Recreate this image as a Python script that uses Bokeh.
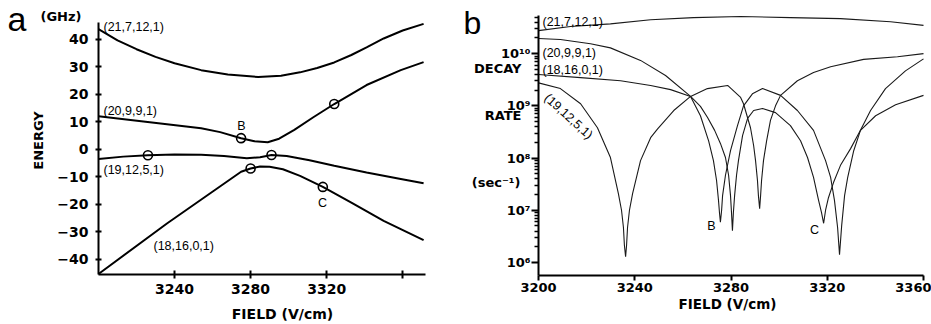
from bokeh.plotting import figure
from bokeh.layouts import row
from bokeh.models import FixedTicker, Label, Range1d
from bokeh.embed import file_html
from bokeh.resources import INLINE
import numpy as np

# ---------------- Panel a: energy (GHz) vs field (V/cm) ----------------
a_field_21_7_12 = [3200, 3210, 3220, 3230, 3240, 3254, 3268, 3284, 3296, 3306, 3315, 3324, 3333, 3341, 3350, 3360, 3371]
a_energy_21_7_12 = [43.6, 39.5, 36.3, 33.5, 31.2, 28.7, 27.1, 26.2, 26.7, 27.9, 29.5, 31.5, 34.2, 37.0, 40.2, 43.1, 45.5]

a_field_20_9_9 = [3200, 3227, 3254, 3264, 3275, 3282, 3289, 3295, 3303, 3313, 3324, 3341, 3359, 3371]
a_energy_20_9_9 = [12.0, 9.8, 7.6, 6.2, 4.0, 2.9, 2.5, 3.8, 7.0, 11.6, 16.4, 23.3, 28.7, 31.6]

a_field_19_12_5 = [3200, 3213, 3226, 3240, 3254, 3266, 3278, 3285, 3291, 3299, 3311, 3324, 3341, 3359, 3371]
a_energy_19_12_5 = [-3.6, -2.7, -2.2, -1.9, -2.0, -2.5, -3.3, -2.9, -2.1, -2.5, -4.0, -6.0, -8.5, -10.8, -12.4]

a_field_18_16_0 = [3200, 3236, 3275, 3280, 3285, 3290, 3297, 3306, 3318, 3333, 3350, 3371]
a_energy_18_16_0 = [-45.3, -27.0, -8.2, -7.0, -6.3, -6.4, -7.3, -9.7, -13.7, -19.4, -26.0, -33.0]

a_mark_field = [3226, 3291, 3275, 3324, 3280, 3318]
a_mark_energy = [-2.2, -2.1, 4.0, 16.4, -7.0, -13.7]

a_xticks = [3240, 3280, 3320, 3360]
a_yticks = [-40, -30, -20, -10, 0, 10, 20, 30, 40]

# ---------------- Panel b: decay rate (sec^-1, read as log10) vs field ----------------
b_field_21_7_12 = [3200, 3213.3, 3229.9, 3246.6, 3264.4, 3284.0, 3304.7, 3325.5, 3346.3, 3360]
b_log_21_7_12 = [10.44, 10.52, 10.57, 10.65, 10.69, 10.71, 10.69, 10.67, 10.61, 10.54]

b_field_20_9_9 = [3200, 3209.1, 3221.6, 3229.9, 3242.4, 3252.8, 3263.2, 3267.3, 3270.7, 3272.7,
                  3274.0, 3274.8, 3275.2, 3275.6, 3276.1, 3276.5, 3277.7, 3279.8, 3282.7, 3285.2,
                  3288.9, 3293.1, 3300.6, 3307.6, 3314.3, 3319.3, 3321.4, 3323.0, 3324.3, 3325.1,
                  3326.0, 3327.2, 3328.5, 3331.0, 3333.8, 3338.0, 3344.2, 3352.5, 3360]
b_log_20_9_9 = [10.29, 10.27, 10.19, 10.11, 9.87, 9.58, 9.18, 8.81, 8.33, 7.95,
                7.57, 7.19, 6.96, 6.77, 7.00, 7.28, 7.67, 8.14, 8.62, 9.00,
                9.23, 9.33, 9.20, 8.91, 8.53, 7.95, 7.63, 7.19, 6.67, 6.15,
                6.71, 7.28, 7.63, 8.14, 8.53, 8.91, 9.33, 9.67, 9.90]

b_field_18_16_0 = [3200, 3217.5, 3234.1, 3246.6, 3254.9, 3263.2, 3267.3, 3270.2, 3273.2, 3275.6,
                   3277.7, 3279.0, 3279.8, 3280.2, 3280.6, 3281.0, 3281.5, 3282.3, 3283.1, 3284.8,
                   3286.9, 3289.4, 3293.1, 3298.5, 3304.7, 3308.9, 3311.8, 3314.3, 3316.4, 3317.6,
                   3318.5, 3319.3, 3320.5, 3322.6, 3325.5, 3329.7, 3333.8, 3340.1, 3348.4, 3360]
b_log_18_16_0 = [9.60, 9.54, 9.48, 9.39, 9.31, 9.18, 8.99, 8.78, 8.53, 8.28,
                 8.01, 7.67, 7.28, 6.96, 6.61, 6.96, 7.28, 7.67, 7.95, 8.43,
                 8.76, 8.91, 8.95, 8.87, 8.62, 8.33, 8.01, 7.63, 7.19, 6.96,
                 6.75, 7.00, 7.24, 7.53, 7.86, 8.18, 8.53, 8.81, 9.02, 9.20]

b_field_19_12_5 = [3200, 3209.1, 3217.5, 3224.5, 3229.9, 3233.2, 3234.5, 3235.3, 3235.7, 3236.2,
                   3236.6, 3237.0, 3237.8, 3239.1, 3242.4, 3246.6, 3249.5, 3256.2, 3263.2, 3270.2,
                   3278.6, 3284.0, 3285.2, 3288.1, 3289.4, 3290.2, 3291.0, 3291.4, 3291.9, 3292.3,
                   3292.7, 3293.5, 3294.8, 3296.4, 3298.5, 3300.6, 3307.6, 3314.3, 3321.4, 3335.1,
                   3349.2, 3360]
b_log_19_12_5 = [9.44, 9.33, 9.04, 8.58, 8.01, 7.32, 7.00, 6.67, 6.33, 6.11,
                 6.33, 6.67, 7.00, 7.32, 7.95, 8.39, 8.56, 8.91, 9.18, 9.33,
                 9.39, 9.16, 9.04, 8.58, 8.24, 7.95, 7.57, 7.28, 7.03, 7.28,
                 7.57, 7.95, 8.33, 8.72, 9.00, 9.20, 9.48, 9.64, 9.75, 9.89,
                 9.94, 10.00]

b_xticks = [3200, 3240, 3280, 3320, 3360]
b_yticks = [1e6, 1e7, 1e8, 1e9, 1e10]
b_ytick_labels = ["10\u2076", "10\u2077", "10\u2078", "10\u2079", "10\u00b9\u2070"]

BOLD = "DejaVu Sans"
REG = "Liberation Sans"

# ---------------- layout geometry (page pixels) ----------------
# panel a: plot box from x=98..425, y=22..274 ; panel b: x=538..923, y=15..275
A_LEFT, A_TOP, A_W, A_H = 98, 22, 327, 252
A_X0, A_X1, A_Y0, A_Y1 = 3200, 3372, -45.5, 46
B_OFF, B_WIDTH = 460, 471
B_LEFT, B_TOP, B_W, B_H = 538, 15, 385, 260
B_X0, B_X1, B_L0, B_L1 = 3200, 3360, 5.75, 10.73
H = 324


def ax(px):
    return A_X0 + (px - A_LEFT) * (A_X1 - A_X0) / A_W


def ay(py):
    return A_Y1 - (py - A_TOP) * (A_Y1 - A_Y0) / A_H


def bx(px):
    return B_X0 + (px - B_LEFT) * (B_X1 - B_X0) / B_W


def by(py):
    return 10 ** (B_L1 - (py - B_TOP) * (B_L1 - B_L0) / B_H)


def lab(p, x, y, text, font=REG, size="12.5px", style="normal", align="left", angle=0.0):
    p.add_layout(Label(x=x, y=y, text=text, text_font=font, text_font_size=size,
                       text_font_style=style, text_align=align, text_baseline="middle",
                       text_color="black", angle=angle))


def bare(p):
    p.outline_line_color = None
    p.grid.visible = False
    p.background_fill_color = "white"
    p.border_fill_color = "white"
    p.min_border = 0
    p.min_border_left = 0
    p.min_border_right = 0
    p.min_border_top = 0
    p.min_border_bottom = 0


# ---------------- figure a (frame spans whole canvas; axes pinned to the plot box) ----------------
pa = figure(width=B_OFF, height=H, output_backend="svg", toolbar_location=None,
            x_range=Range1d(ax(0), ax(B_OFF)), y_range=Range1d(ay(H), ay(0)))
bare(pa)

for f, e in [(a_field_21_7_12, a_energy_21_7_12), (a_field_20_9_9, a_energy_20_9_9),
             (a_field_19_12_5, a_energy_19_12_5), (a_field_18_16_0, a_energy_18_16_0)]:
    pa.line(f, e, line_color="black", line_width=2.0)
pa.scatter(a_mark_field, a_mark_energy, marker="circle", size=9, fill_color=None,
           line_color="black", line_width=1.6)

for axis in pa.axis:
    axis.axis_line_width = 2
    axis.axis_line_color = "black"
    axis.major_tick_line_width = 2
    axis.major_tick_line_color = "black"
    axis.minor_tick_line_color = None
    axis.major_label_text_font = BOLD
    axis.major_label_text_font_style = "bold"
    axis.major_label_text_font_size = "14px"
    axis.major_label_text_color = "black"
pa.xaxis.fixed_location = A_Y0
pa.xaxis.bounds = (A_X0, A_X1)
pa.xaxis.ticker = FixedTicker(ticks=a_xticks)
pa.xaxis.major_label_overrides = {3360: ""}
pa.xaxis.major_tick_in = 4
pa.xaxis.major_tick_out = 4
pa.xaxis.major_label_standoff = 5
pa.yaxis.fixed_location = A_X0
pa.yaxis.bounds = (A_Y0, A_Y1)
pa.yaxis.ticker = FixedTicker(ticks=a_yticks)
pa.yaxis.major_tick_in = 3
pa.yaxis.major_tick_out = 3
pa.yaxis.major_label_standoff = 7

lab(pa, ax(7), ay(18), "a", font=REG, size="34px")
lab(pa, ax(40), ay(16), "(GHz)", font=BOLD, size="13px", style="bold")
lab(pa, ax(38), ay(140), "ENERGY", font=BOLD, size="13px", style="bold", align="center", angle=np.pi / 2)
lab(pa, ax(282), ay(313), "FIELD (V/cm)", font=BOLD, size="14px", style="bold", align="center")
lab(pa, ax(103), ay(26), "(21,7,12,1)")
lab(pa, ax(103), ay(110), "(20,9,9,1)")
lab(pa, ax(103), ay(169), "(19,12,5,1)")
lab(pa, ax(153), ay(245), "(18,16,0,1)")
lab(pa, ax(241), ay(125), "B", align="center")
lab(pa, ax(322), ay(202), "C", align="center")

# ---------------- figure b ----------------
pb = figure(width=B_WIDTH, height=H, output_backend="svg", toolbar_location=None,
            y_axis_type="log",
            x_range=Range1d(bx(B_OFF), bx(B_OFF + B_WIDTH)), y_range=Range1d(by(H), by(0)))
bare(pb)

for f, lg in [(b_field_21_7_12, b_log_21_7_12), (b_field_20_9_9, b_log_20_9_9),
              (b_field_18_16_0, b_log_18_16_0), (b_field_19_12_5, b_log_19_12_5)]:
    pb.line(f, 10 ** np.array(lg), line_color="#1a1a1a", line_width=1.1)

for axis in pb.axis:
    axis.axis_line_width = 2
    axis.axis_line_color = "black"
    axis.major_tick_line_width = 2
    axis.major_tick_line_color = "black"
    axis.major_label_text_font = BOLD
    axis.major_label_text_font_style = "bold"
    axis.major_label_text_font_size = "13px"
    axis.major_label_text_color = "black"
pb.xaxis.fixed_location = 10 ** B_L0
pb.xaxis.bounds = (B_X0, B_X1)
pb.xaxis.ticker = FixedTicker(ticks=b_xticks)
pb.xaxis.major_tick_in = 0
pb.xaxis.major_tick_out = 5
pb.xaxis.major_label_standoff = 2
pb.xaxis.minor_tick_line_color = None

minor = [k * 10.0 ** n for n in range(6, 11) for k in range(2, 10) if k * 10.0 ** n < 10 ** B_L1]
pb.yaxis.fixed_location = B_X0
pb.yaxis.bounds = (10 ** B_L0, 10 ** B_L1)
pb.yaxis.ticker = FixedTicker(ticks=b_yticks, minor_ticks=minor)
pb.yaxis.major_label_overrides = {int(t): s for t, s in zip(b_yticks, b_ytick_labels)}
pb.yaxis.major_tick_in = 0
pb.yaxis.major_tick_out = 7
pb.yaxis.minor_tick_in = 0
pb.yaxis.minor_tick_out = 4
pb.yaxis.minor_tick_line_width = 1.5
pb.yaxis.minor_tick_line_color = "black"
pb.yaxis.major_label_standoff = 1

lab(pb, bx(463), by(22), "b", font=REG, size="32px")
lab(pb, bx(521), by(68), "DECAY", font=BOLD, size="13px", style="bold", align="right")
lab(pb, bx(521), by(115), "RATE", font=BOLD, size="13px", style="bold", align="right")
lab(pb, bx(520), by(182), "(sec\u207b\u00b9)", font=BOLD, size="13px", style="bold", align="right")
lab(pb, bx(727), by(303), "FIELD (V/cm)", font=BOLD, size="13.5px", style="bold", align="center")
lab(pb, bx(542), by(21), "(21,7,12,1)")
lab(pb, bx(542), by(52), "(20,9,9,1)")
lab(pb, bx(542), by(69), "(18,16,0,1)")
lab(pb, bx(568), by(116), "(19,12,5,1)", align="center", angle=-0.74)
lab(pb, bx(711), by(225), "B", align="center")
lab(pb, bx(814), by(229), "C", align="center")

layout = row(pa, pb)
open("out.html", "w").write(file_html(layout, INLINE))
